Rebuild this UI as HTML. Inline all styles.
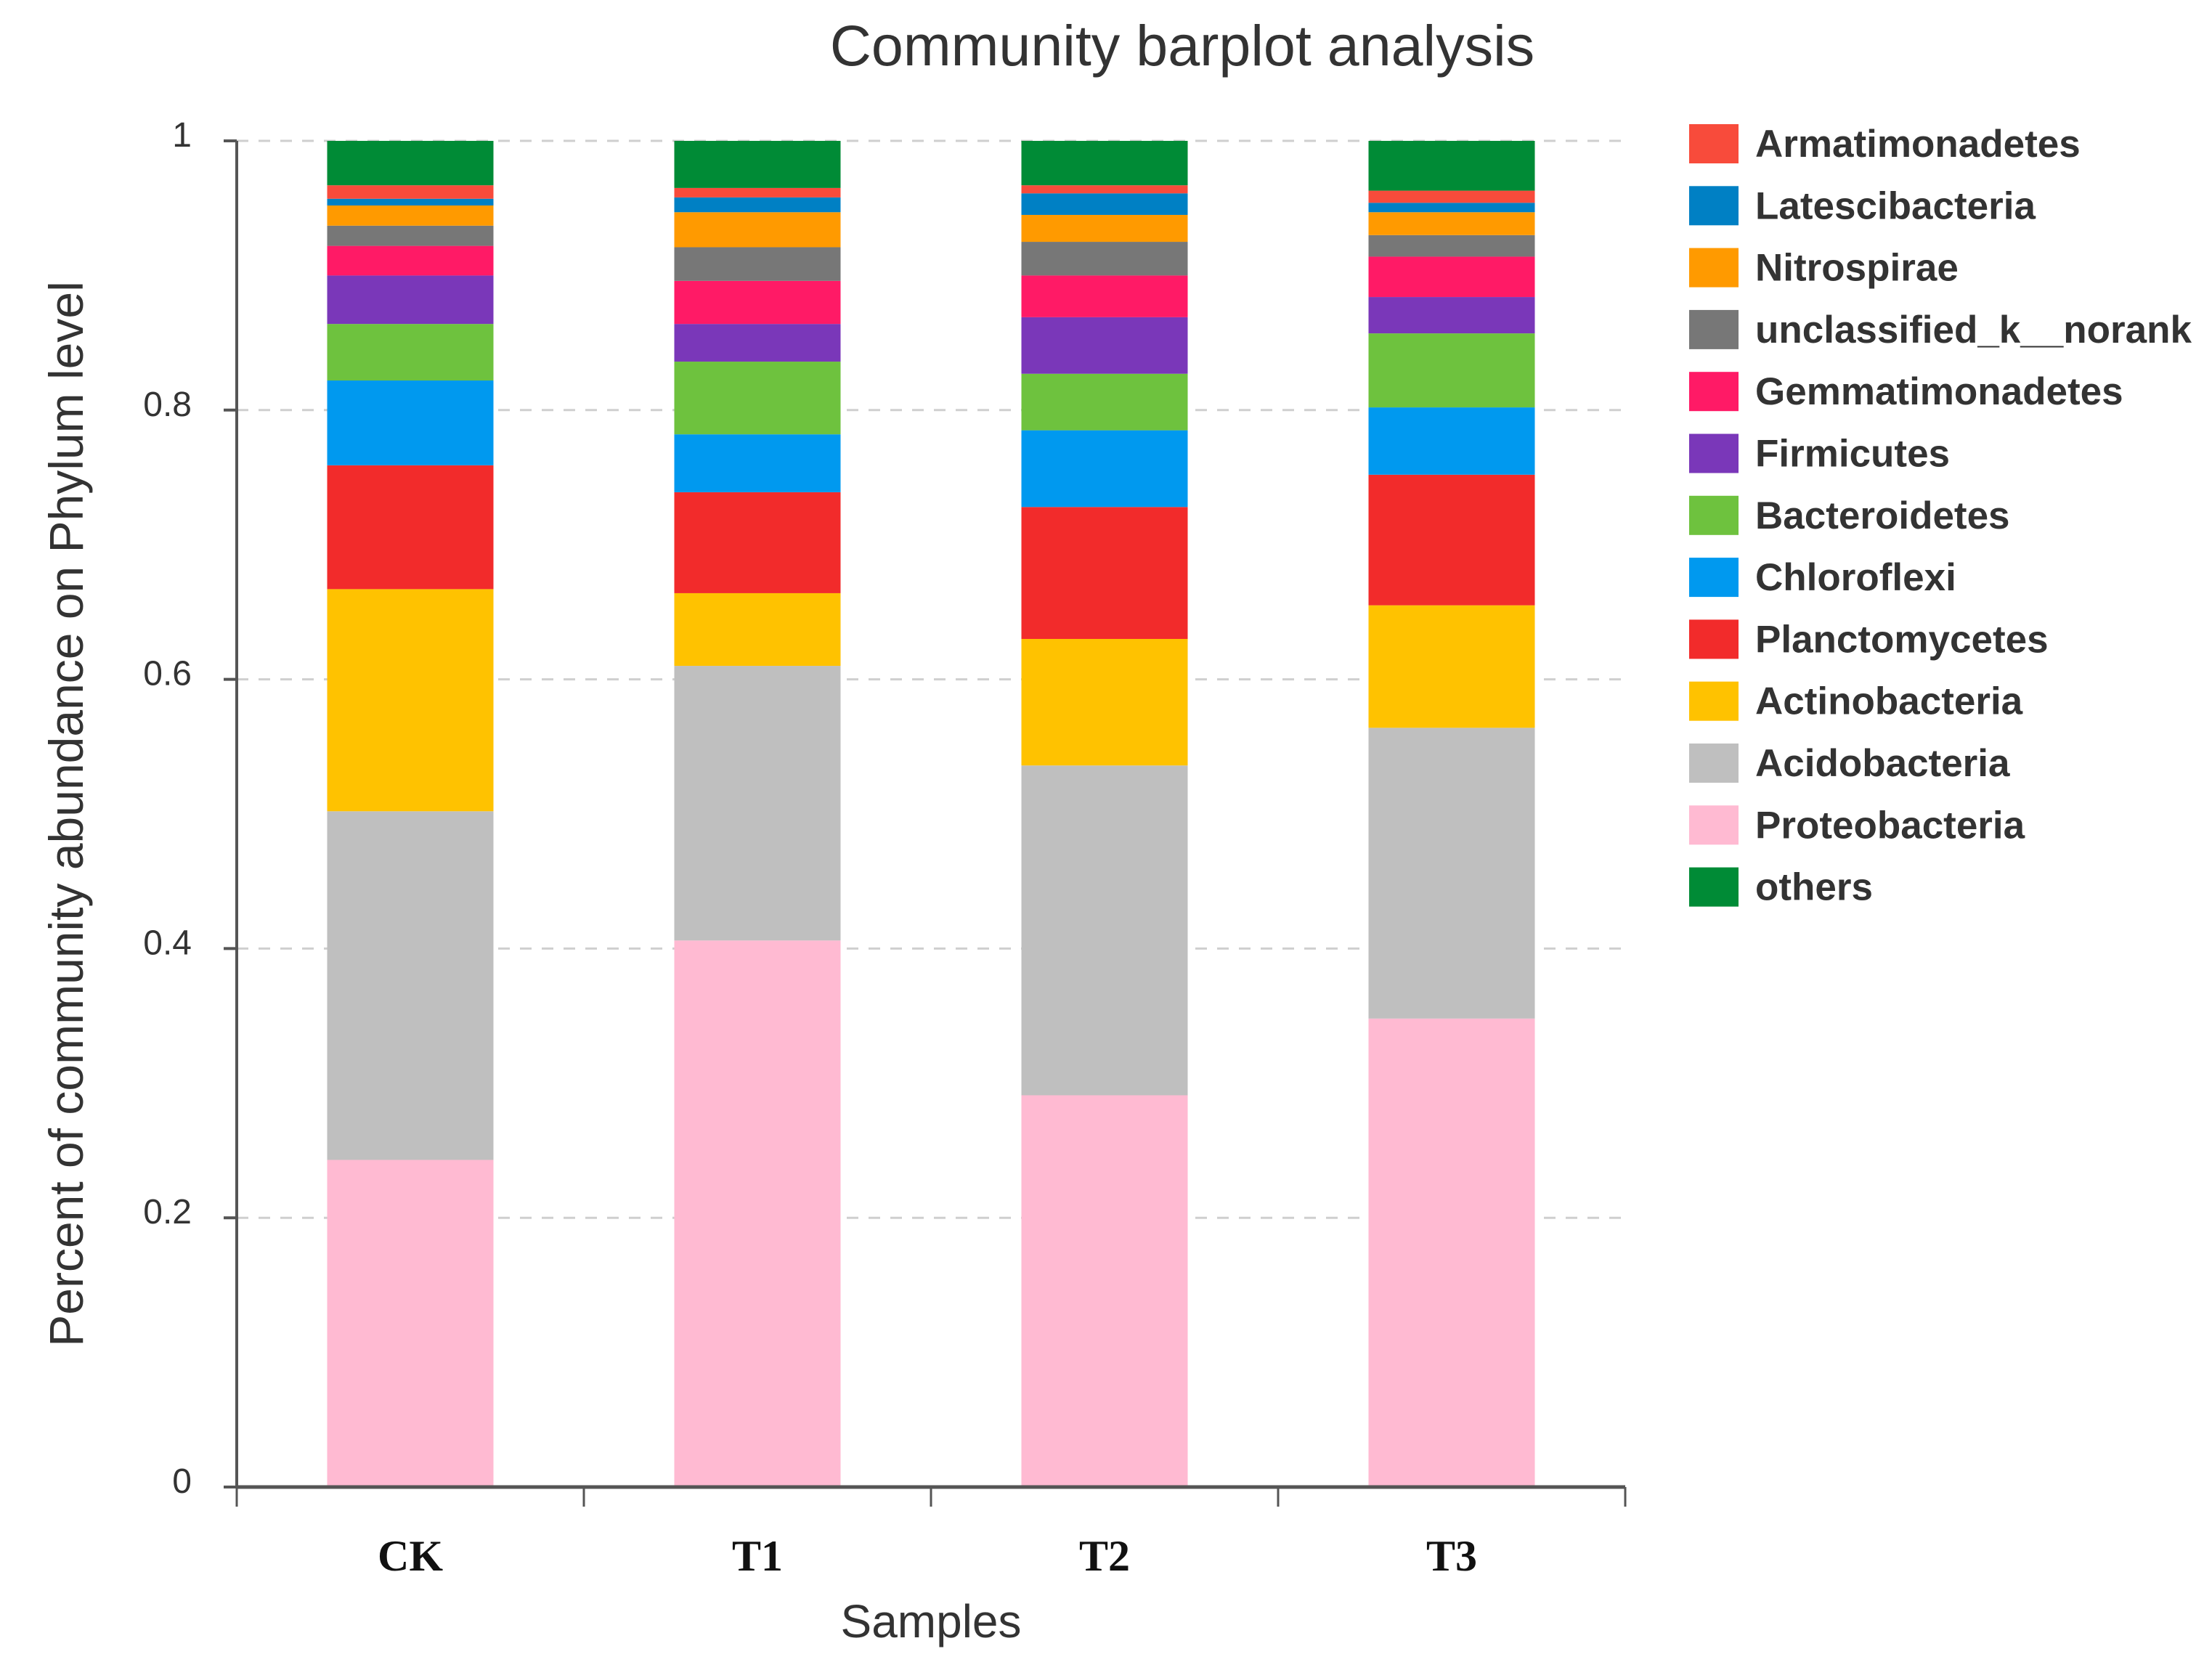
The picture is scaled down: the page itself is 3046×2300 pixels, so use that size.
<!DOCTYPE html>
<html><head><meta charset="utf-8"><style>
html,body{margin:0;padding:0;background:#fff;}
svg{display:block;}
</style></head><body>
<svg id="chart" width="3046" height="2300" viewBox="0 0 3046 2300" xmlns="http://www.w3.org/2000/svg">
<text x="1628" y="90" text-anchor="middle" font-family="Liberation Sans, sans-serif" font-size="79" fill="#333">Community barplot analysis</text>
<text transform="translate(114,1121) rotate(-90)" text-anchor="middle" font-family="Liberation Sans, sans-serif" font-size="66" fill="#333">Percent of community abundance on Phylum level</text>
<text x="1282" y="2255" text-anchor="middle" font-family="Liberation Sans, sans-serif" font-size="64" fill="#333">Samples</text>
<g id="grid"></g><g id="bars"></g><g id="axes"></g><g id="legend"></g>
</svg>
<script>
const categories = ["CK","T1","T2","T3"];
const seriesNames = ["Proteobacteria","Acidobacteria","Actinobacteria","Planctomycetes","Chloroflexi","Bacteroidetes","Firmicutes","Gemmatimonadetes","unclassified_k__norank","Nitrospirae","Latescibacteria","Armatimonadetes","others"];
const proteobacteria = [0.243,0.406,0.291,0.348];
const acidobacteria = [0.259,0.204,0.245,0.216];
const actinobacteria = [0.165,0.054,0.094,0.091];
const planctomycetes = [0.092,0.075,0.098,0.097];
const chloroflexi = [0.063,0.043,0.057,0.050];
const bacteroidetes = [0.042,0.054,0.042,0.055];
const firmicutes = [0.036,0.028,0.042,0.027];
const gemmatimonadetes = [0.022,0.032,0.031,0.030];
const unclassified = [0.015,0.025,0.025,0.016];
const nitrospirae = [0.015,0.026,0.020,0.017];
const latescibacteria = [0.005,0.011,0.016,0.007];
const armatimonadetes = [0.010,0.007,0.006,0.009];
const others = [0.033,0.035,0.033,0.037];
const yTicks = [0,0.2,0.4,0.6,0.8,1];
const yTickLabels = ["0","0.2","0.4","0.6","0.8","1"];
const legendOrder = ["Armatimonadetes","Latescibacteria","Nitrospirae","unclassified_k__norank","Gemmatimonadetes","Firmicutes","Bacteroidetes","Chloroflexi","Planctomycetes","Actinobacteria","Acidobacteria","Proteobacteria","others"];

const seriesValues = [proteobacteria,acidobacteria,actinobacteria,planctomycetes,chloroflexi,bacteroidetes,firmicutes,gemmatimonadetes,unclassified,nitrospirae,latescibacteria,armatimonadetes,others];
const colors = {"Proteobacteria":"#ffbad2","Acidobacteria":"#bfbfbf","Actinobacteria":"#ffc200","Planctomycetes":"#f22b2b","Chloroflexi":"#0099ef","Bacteroidetes":"#6ec23e","Firmicutes":"#7a37b9","Gemmatimonadetes":"#ff1a66","unclassified_k__norank":"#777777","Nitrospirae":"#ff9a00","Latescibacteria":"#0080c4","Armatimonadetes":"#f84b3b","others":"#008b36"};
const NS="http://www.w3.org/2000/svg";
const X0=326, X1=2238, Y0=2048, Y1=194;
const band=(X1-X0)/categories.length, barW=229;
function y(v){return Y0-(Y0-Y1)*v;}
function xc(i){return X0+band*(i+0.5);}
function mk(tag,attrs,parent){const e=document.createElementNS(NS,tag);for(const k in attrs)e.setAttribute(k,attrs[k]);parent.appendChild(e);return e;}
const grid=document.getElementById('grid'),bars=document.getElementById('bars'),axes=document.getElementById('axes'),legend=document.getElementById('legend');
yTicks.forEach((t,i)=>{
  if(t>0){const g=mk('line',{x1:X0,x2:X1,y1:y(t),y2:y(t),stroke:'#cfcfcf','stroke-width':3,'stroke-dasharray':'16 14'},grid);
  
  }
  const tk=mk('line',{x1:X0-18,x2:X0,y1:y(t),y2:y(t),stroke:'#555','stroke-width':4},axes);
  
  
  const lb=mk('text',{x:X0-62,y:y(t)+8,'text-anchor':'end','font-family':'Liberation Sans, sans-serif','font-size':48,fill:'#333'},axes);
  lb.textContent=yTickLabels[i];
  
  
});
categories.forEach((c,i)=>{
  let cum=0;
  seriesValues.forEach((arr,s)=>{
    const v=arr[i];const r=mk('rect',{x:xc(i)-barW/2,y:y(cum+v),width:barW,height:y(cum)-y(cum+v),fill:colors[seriesNames[s]]},bars);
    
    
    cum+=v;
  });
  const lb=mk('text',{x:xc(i),y:2163,'text-anchor':'middle','font-family':'Liberation Serif, serif','font-weight':'bold','font-size':60,fill:'#111'},axes);
  lb.textContent=c;
  
  
});
for(let i=0;i<=categories.length;i++){
  const t=mk('line',{x1:X0+band*i,x2:X0+band*i,y1:Y0,y2:Y0+27,stroke:'#555','stroke-width':3},axes);
  
  
}
const ya=mk('line',{x1:X0,x2:X0,y1:Y1,y2:Y0,stroke:'#555','stroke-width':4},axes);


const xa=mk('line',{x1:X0,x2:X1,y1:Y0,y2:Y0,stroke:'#555','stroke-width':5},axes);


legendOrder.forEach((n,i)=>{
  const cy=198+85.3*i;
  const g=mk('g',{},legend);
  
  
  mk('rect',{x:2326,y:cy-27,width:68,height:54,fill:colors[n]},g);
  const t=mk('text',{x:2417,y:cy+18,'font-family':'Liberation Sans, sans-serif','font-weight':'bold','font-size':53,fill:'#333'},g);
  t.textContent=n;
});
</script>
</body></html>
